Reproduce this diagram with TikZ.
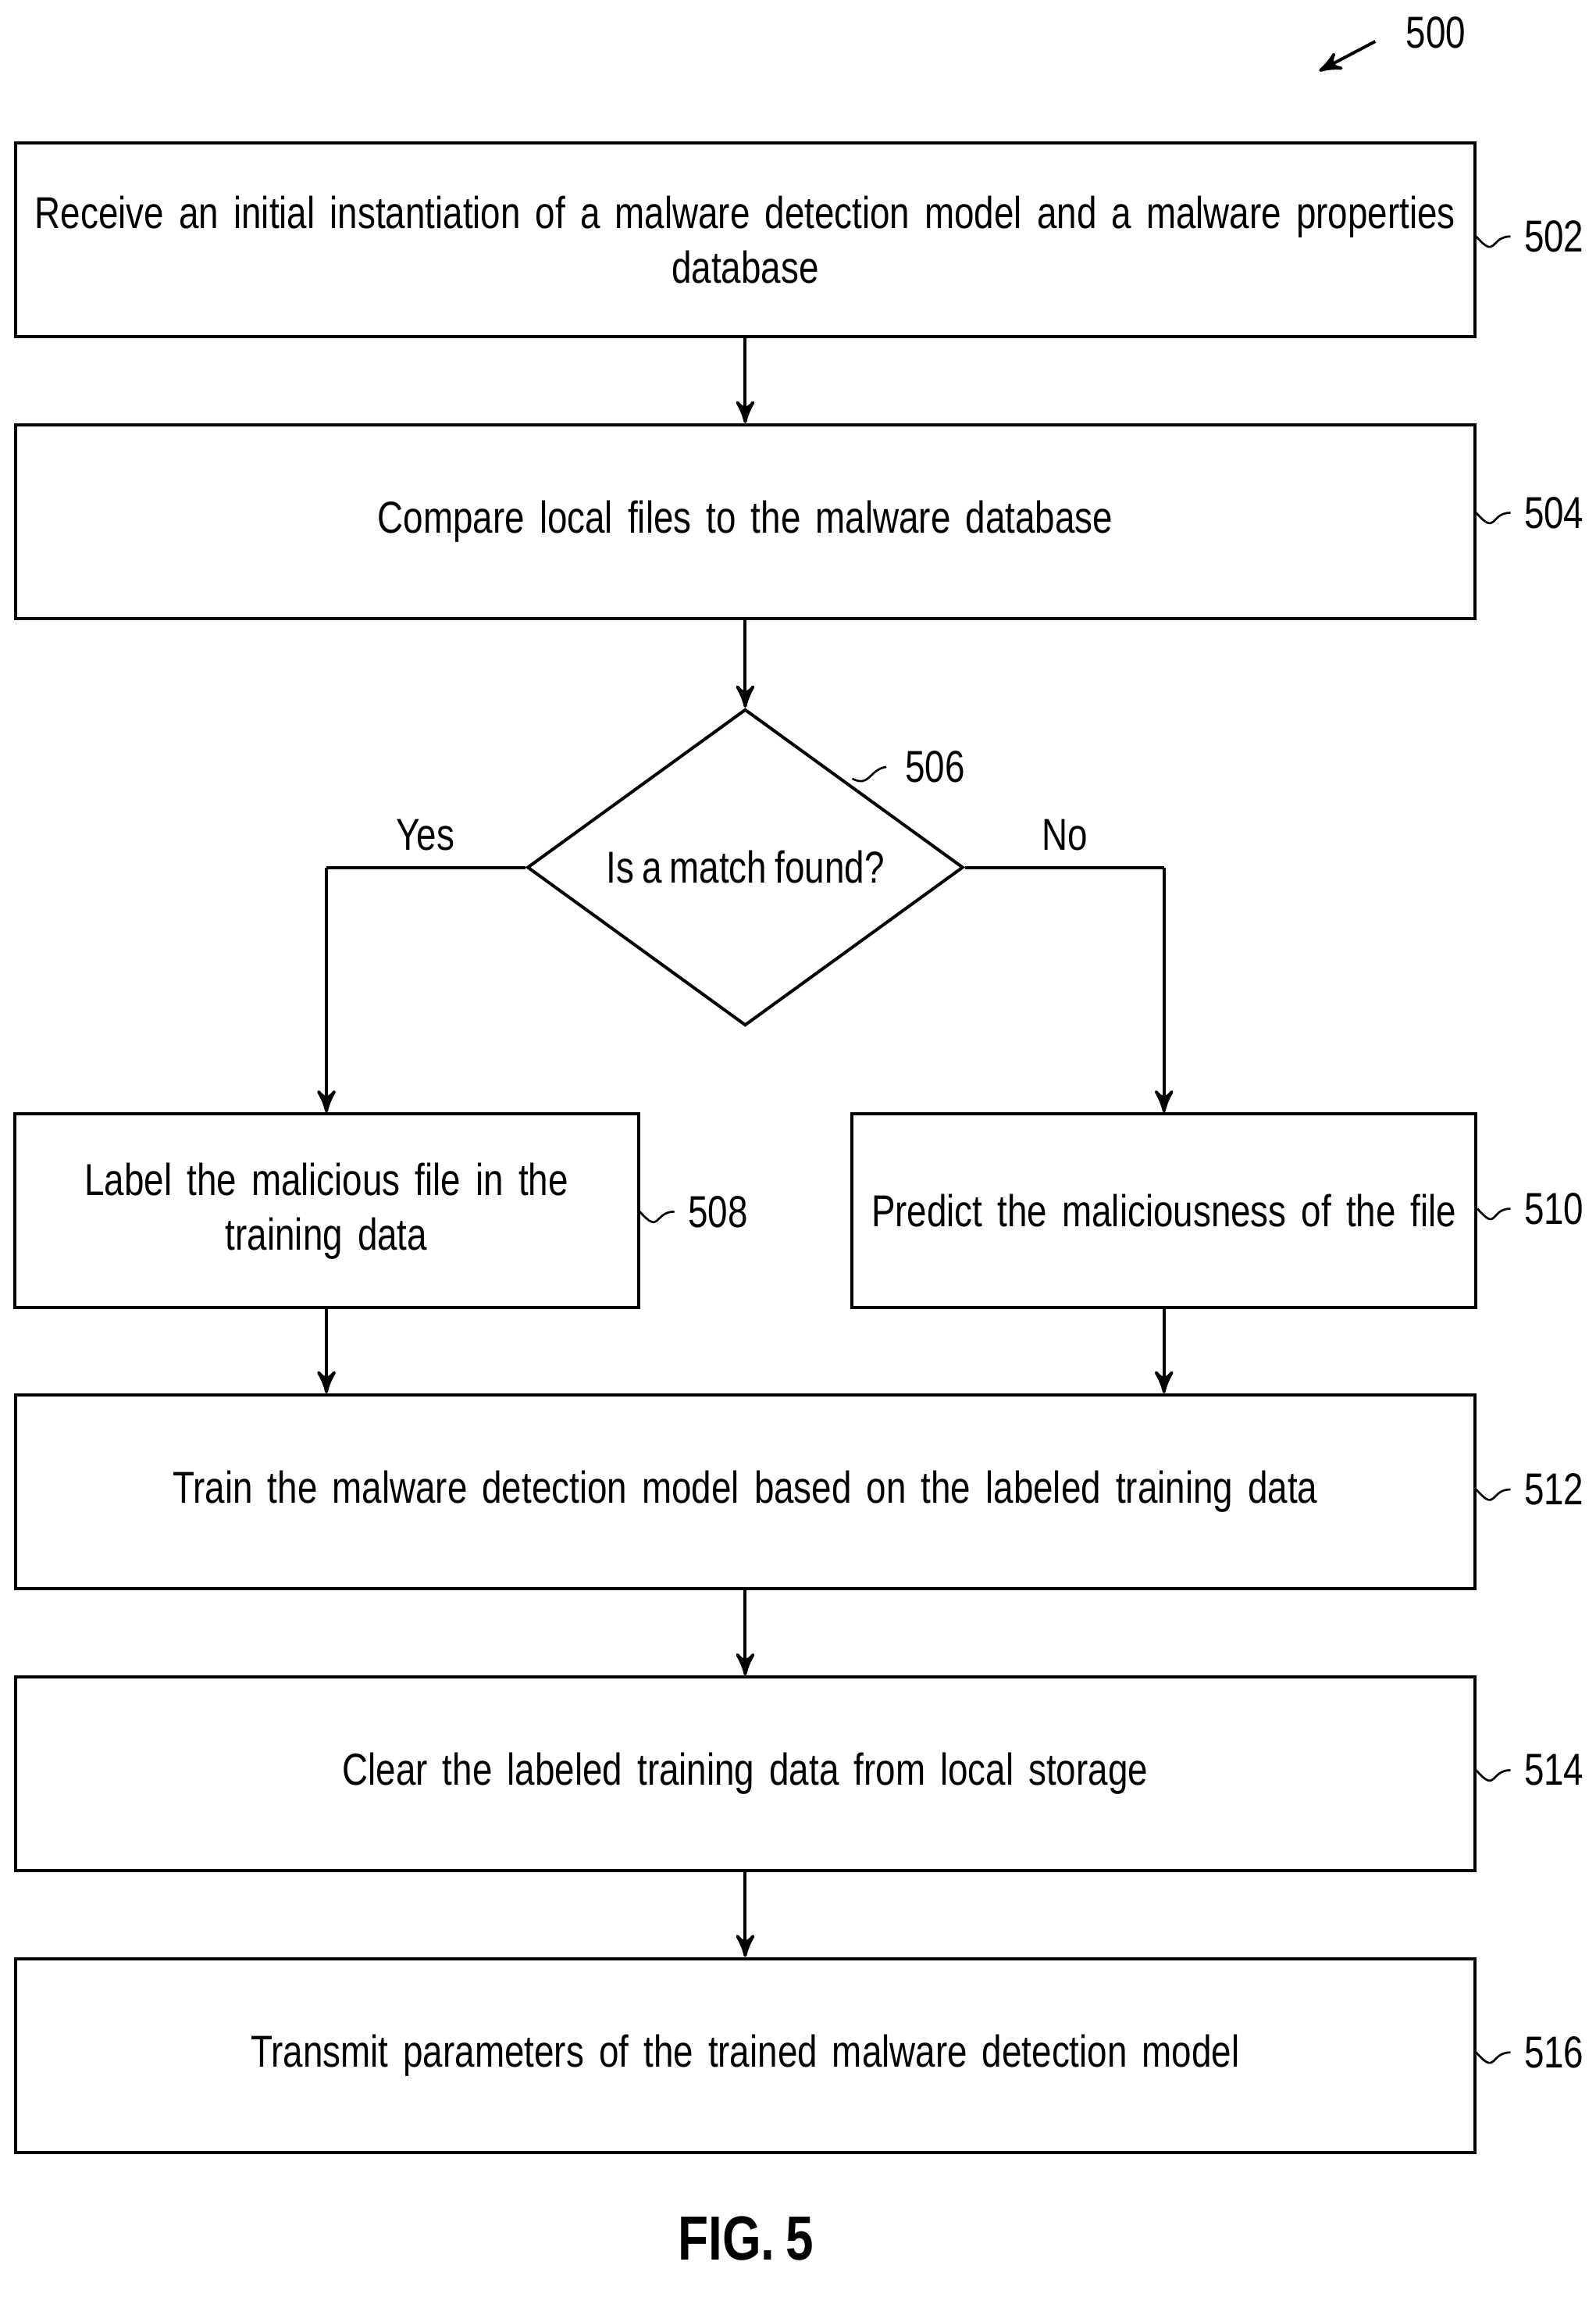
\documentclass[tikz,border=0pt]{standalone}
\usepackage{fontspec}
\setmainfont{Liberation Sans}[FakeStretch=0.8,WordSpace=0.8]
\usepackage{tikz}
\usetikzlibrary{arrows,shapes.geometric,positioning}

\begin{document}
\begin{tikzpicture}[x=0.01cm,y=-0.01cm,->,>=stealth',semithick,
                    font=\fontsize{8.6}{10.5}\selectfont]
  \tikzstyle{wide box}=[draw,rectangle,minimum width=9.85cm,minimum height=1.31cm,
                    inner sep=1pt,align=center,text width=9.8cm]
  \tikzstyle{half box}=[draw,rectangle,minimum width=4.18cm,minimum height=1.31cm,
                    inner sep=1pt,align=center,text width=4.15cm]
  \tikzstyle{lead}=[-,thin]
  \useasboundingbox (0,0) rectangle (1080,1562);

  \node[wide box] (S502) at (504.5,162.5) {Receive an initial instantiation of a malware detection model and a malware properties\\ database};
  \node[wide box] (S504) at (504.5,353)   {Compare local files to the malware database};
  \node[draw,diamond,aspect=1.38,minimum width=2.95cm,minimum height=2.14cm,inner sep=0pt]
        (D506) at (504.5,587) {Is a match found?};
  \node[half box] (S508) at (221,819.5) {Label the malicious file in the\\ training data};
  \node[half box] (S510) at (788,819.5) {Predict the maliciousness of the file};
  \node[wide box] (S512) at (504.5,1009.5) {Train the malware detection model based on the labeled training data};
  \node[wide box] (S514) at (504.5,1200.5) {Clear the labeled training data from local storage};
  \node[wide box] (S516) at (504.5,1391)  {Transmit parameters of the trained malware detection model};

  % reference numerals
  \node (L500) at (972,22)    {500};
  \node (L502) at (1052,160)  {502};
  \node (L504) at (1052,347)  {504};
  \node (L506) at (633,519)   {506};
  \node (L508) at (486,820)   {508};
  \node (L510) at (1052,818)  {510};
  \node (L512) at (1052,1008) {512};
  \node (L514) at (1052,1198) {514};
  \node (L516) at (1052,1389) {516};
  \node (Yes) at (288,565) {Yes};
  \node (No)  at (721,565) {No};
  \node[font=\fontsize{12}{14}\selectfont\bfseries] (Fig) at (505,1515) {FIG. 5};

  \coordinate (yl) at (221,587);
  \coordinate (nr) at (788,587);
  \coordinate (d506) at (577,527);

  \draw (S502) -- (S504);
  \draw (S504) -- (D506);
  \draw[-] (D506.west) -- (yl);
  \draw (yl) -- (S508);
  \draw[-] (D506.east) -- (nr);
  \draw (nr) -- (S510);
  \draw (S508.south) -- (S508.south |- S512.north);
  \draw (S510.south) -- (S510.south |- S512.north);
  \draw (S512) -- (S514);
  \draw (S514) -- (S516);
  \draw (L500.west) ++(-8,6) -- ++(-38,20);

  % leaders
  \foreach \s in {502,504,508,510,512,514,516}
    \draw[lead] (S\s.east |- L\s.west) .. controls +(14,16) and +(-14,0) .. ([xshift=1pt]L\s.west);
  \draw[lead] (d506) .. controls +(12,6) and +(-12,2) .. (L506.west);
\end{tikzpicture}
\end{document}
